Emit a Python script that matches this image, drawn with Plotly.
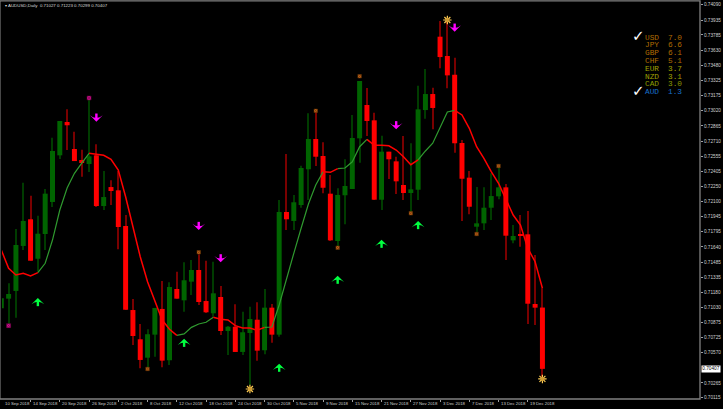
import plotly.graph_objects as go

W, H = 723, 409
M = dict(l=2, r=21, t=2, b=10)

# Price scale in 1e-5 units (OHLC per daily bar)
opens = [71020,71117,71195,71650,71920,71521,71771,72095,72567,72904,72631,72520,72479,72567,72054,72246,72213,71852,71002,70706,70520,70753,71013,70494,71215,71100,71289,71407,71093,70969,71134,70790,70833,70578,70770,70904,70595,71026,70753,71994,71903,72064,72426,72732,72560,72179,71700,72163,72226,72739,73076,72921,72118,72604,72506,72267,72186,72219,73025,73187,73767,73572,73382,72692,72341,71845,71879,72037,72152,72243,71707,71771,71768,71063,71027]
highs = [71205,71272,71822,72290,72159,71956,72226,72745,72914,73032,72806,72624,73126,72678,72408,72314,72408,71963,71114,70861,70807,71023,71296,71283,71390,71485,71508,71566,71501,71491,71245,70841,71060,70985,71036,71080,71215,71063,72115,72580,72166,72462,72992,73008,72699,72368,72233,72527,72975,73319,73248,72998,72765,72604,72553,72762,72689,73271,73440,73251,73926,73936,73554,72722,72408,72246,72243,72385,72452,72277,71862,71963,72004,71559,71223]
lows = [70881,70844,70925,71609,71498,71390,71609,72044,72530,72621,72509,72351,72398,72044,72014,72064,71616,71002,70648,70413,70416,70530,70423,70446,71117,70985,71154,71053,70972,70935,70749,70547,70578,70547,70244,70490,70554,70672,70732,71812,71812,72037,72115,72459,72183,71700,71650,71869,72226,72492,72762,72115,72014,72327,72176,72115,71994,72115,72937,72830,73447,73245,72593,71903,71970,71791,71812,71913,72122,71508,71677,71643,70861,70851,70299]
closes = [71121,71164,71660,71903,71501,71774,72179,72611,72914,72871,72509,72489,72557,72054,72145,72206,71842,71005,70739,70497,70757,71023,70490,71235,71117,71303,71407,71083,70979,71171,70790,70833,70578,70777,70911,70591,71026,70753,71994,71920,72092,72439,72732,72553,72239,71707,72166,72257,72742,73319,72914,72118,72604,72527,72304,72186,72223,73032,73187,73046,73561,73376,72689,72330,72047,71879,72037,72155,72243,71754,71751,71756,71066,71026,70407]
ma_line = [71609,71424,71356,71374,71346,71380,71475,71710,72014,72236,72385,72489,72587,72580,72567,72527,72418,72148,71832,71541,71289,71103,70901,70807,70746,70760,70827,70861,70878,70929,70908,70901,70844,70820,70820,70797,70827,70830,71053,71326,71576,71829,72075,72267,72401,72395,72432,72439,72502,72654,72729,72668,72668,72664,72621,72553,72472,72520,72611,72689,72840,73005,73022,72975,72840,72654,72537,72401,72284,72132,71963,71862,71626,71491,71223]
ma_rising_runs = [(5, 12), (24, 29), (36, 44), (46, 50), (57, 62)]
ma_falling_runs = [(0, 5), (12, 24), (29, 36), (44, 46), (50, 57), (62, 74)]

sell_idx = [13, 27, 30, 54, 62]
sell_price = [72958, 71862, 71535, 72881, 73868]
buy_idx = [5, 25, 38, 46, 52, 57]
buy_price = [71073, 70661, 70409, 71299, 71663, 71852]
pink_idx = [1, 12]
pink_price = [70844, 73147]
orange_idx = [20, 27, 43, 46, 49, 56, 65, 68]
orange_price = [70406, 71586, 73018, 71633, 73366, 71980, 71771, 72459]
star_idx = [34, 61, 74]
star_price = [70203, 73936, 70305]

date_tick_idx = list(range(0, 73, 4))
date_labels = ["10 Sep 2018","14 Sep 2018","20 Sep 2018","26 Sep 2018","2 Oct 2018","8 Oct 2018","12 Oct 2018","18 Oct 2018","24 Oct 2018","30 Oct 2018","5 Nov 2018","9 Nov 2018","15 Nov 2018","21 Nov 2018","27 Nov 2018","3 Dec 2018","7 Dec 2018","13 Dec 2018","19 Dec 2018"]
price_ticks = [74090,73935,73785,73630,73480,73325,73175,73020,72865,72710,72555,72405,72250,72100,71945,71795,71640,71485,71335,71180,71030,70875,70725,70570,70265,70115]
last_price = 70407
title_text = "▾ AUDUSD,Daily  0.71027 0.71223 0.70299 0.70407"
currencies = ["USD","JPY","GBP","CHF","EUR","NZD","CAD","AUD"]
strengths = [7.0,6.6,6.1,5.1,3.7,3.1,3.0,1.3]
strength_colors = ["#b06c00","#b06c00","#b06c00","#b06c00","#a0a000","#a0a000","#8c9a00","#1870cc"]
checked = ["USD","AUD"]

X0, X1 = 0.095, 95.55
Y0, Y1 = 0.70102, 0.74118
PRICE_PER_PX = (Y1 - Y0) / (H - M["t"] - M["b"])

def pr(v):
    return [p / 1e5 for p in v] if isinstance(v, list) else v / 1e5

def px(x):
    return (x - M["l"]) / (W - M["l"] - M["r"])

def py(y):
    return 1 - (y - M["t"]) / (H - M["t"] - M["b"])

idx = list(range(len(opens)))
is_up = [c >= o for o, c in zip(opens, closes)]
fig = go.Figure()

# wicks (dim, thin bars)
fig.add_trace(go.Bar(x=idx, base=pr(lows), y=[(h - l) / 1e5 for h, l in zip(highs, lows)], width=0.14,
                     marker=dict(color=["#003c00" if u else "#7a0000" for u in is_up], line=dict(width=0)),
                     showlegend=False, hoverinfo="skip"))
# bodies
fig.add_trace(go.Bar(x=idx, base=[min(o, c) / 1e5 for o, c in zip(opens, closes)],
                     y=[abs(o - c) / 1e5 for o, c in zip(opens, closes)], width=0.68,
                     marker=dict(color=["#006400" if u else "#ff0000" for u in is_up], line=dict(width=0)),
                     showlegend=False, hoverinfo="skip"))

for runs, col, w in ((ma_rising_runs, "#2f9a2f", 1.2), (ma_falling_runs, "#ff0000", 1.5)):
    for a, b in runs:
        fig.add_trace(go.Scatter(x=idx[a:b + 1], y=pr(ma_line[a:b + 1]), mode="lines",
                                 line=dict(color=col, width=w), showlegend=False, hoverinfo="skip"))

def arrow(xs, ys, col, angle, direction):
    # shaft
    fig.add_trace(go.Scatter(x=xs, y=pr(ys), mode="markers",
                             marker=dict(symbol="line-ns", size=4.5, line=dict(color=col, width=2.4)),
                             showlegend=False, hoverinfo="skip"))
    # head: its tip sits on the given point, so lift it to the end of the shaft
    tip = [v / 1e5 + direction * 5 * PRICE_PER_PX for v in ys]
    fig.add_trace(go.Scatter(x=xs, y=tip, mode="markers",
                             marker=dict(symbol="arrow-wide", size=9, color=col, angle=angle, line=dict(width=0)),
                             showlegend=False, hoverinfo="skip"))

arrow(buy_idx, buy_price, "#00ff40", 0, 1)
arrow(sell_idx, sell_price, "#ff00ff", 180, -1)

fig.add_trace(go.Scatter(x=pink_idx, y=pr(pink_price), mode="markers",
                         marker=dict(symbol="square-x", size=4, color="#d0108a", line=dict(color="#600040", width=0.5)),
                         showlegend=False, hoverinfo="skip"))
fig.add_trace(go.Scatter(x=orange_idx, y=pr(orange_price), mode="markers",
                         marker=dict(symbol="square-x", size=3.5, color="#c8641e", line=dict(color="#5a3000", width=0.5)),
                         showlegend=False, hoverinfo="skip"))
fig.add_trace(go.Scatter(x=star_idx, y=pr(star_price), mode="markers",
                         marker=dict(symbol="asterisk-open", size=7, line=dict(color="#e4d420", width=1.2)),
                         showlegend=False, hoverinfo="skip"))
fig.add_trace(go.Scatter(x=star_idx, y=pr(star_price), mode="markers",
                         marker=dict(symbol="circle", size=4, color="#cf9a30"),
                         showlegend=False, hoverinfo="skip"))

ann = []
for t, lab in zip(date_tick_idx, date_labels):
    ann.append(dict(x=max(t, X0), xref="x", y=py(403.6), yref="paper", text=lab, showarrow=False, xanchor="left",
                    yanchor="middle", xshift=0.5,
                    font=dict(family="Liberation Sans", size=4.3, color="#d0d0d0")))
ann.append(dict(x=px(3), y=py(5), xref="paper", yref="paper", text=title_text, showarrow=False,
                xanchor="left", yanchor="middle",
                font=dict(family="Liberation Sans", size=4.4, color="#d8d8d8")))
ann.append(dict(x=px(703), y=last_price / 1e5, xref="paper", yref="y", text=f"{last_price / 1e5:.5f}",
                showarrow=False, xanchor="left", yanchor="middle", bgcolor="#ffffff", borderpad=0.3,
                font=dict(family="Liberation Sans", size=4.7, color="#000000")))
for i, (c, s, col) in enumerate(zip(currencies, strengths, strength_colors)):
    yy = py(37.5 + i * 7.8)
    ann.append(dict(x=px(644.5), y=yy, xref="paper", yref="paper", text=c, showarrow=False, xanchor="left",
                    yanchor="middle", font=dict(family="Liberation Mono", size=7.8, color=col)))
    ann.append(dict(x=px(667.5), y=yy, xref="paper", yref="paper", text=f"{s:.1f}", showarrow=False, xanchor="left",
                    yanchor="middle", font=dict(family="Liberation Mono", size=7.8, color=col)))
    if c in checked:
        ann.append(dict(x=px(640), y=py(36.5 + i * 7.8), xref="paper", yref="paper", text="✓", showarrow=False,
                        xanchor="center", yanchor="middle",
                        font=dict(family="DejaVu Sans", size=15, color="#ffffff")))

fig.update_layout(
    width=W, height=H, margin=M, paper_bgcolor="#000000", plot_bgcolor="#000000",
    showlegend=False, annotations=ann, barmode="overlay",
    shapes=[dict(type="rect", xref="paper", yref="paper", x0=-0.003, x1=1, y0=0, y1=1.003,
                 line=dict(color="#808080", width=1.3), fillcolor="rgba(0,0,0,0)", layer="above")],
    xaxis=dict(range=[X0, X1], showgrid=False, zeroline=False,
               tickvals=date_tick_idx, ticktext=[""] * len(date_tick_idx), ticks="outside", ticklen=2,
               tickcolor="#a0a0a0", tickwidth=0.7, showline=False, fixedrange=True),
    yaxis=dict(range=[Y0, Y1], side="right", showgrid=False, zeroline=False,
               tickvals=pr(price_ticks), ticktext=[f"{p / 1e5:.5f}" for p in price_ticks], ticks="outside",
               ticklen=2, tickcolor="#a0a0a0", tickwidth=0.7, showline=False, fixedrange=True,
               tickfont=dict(family="Liberation Sans", size=4.7, color="#d0d0d0")),
)
fig.write_html("out.html", config=dict(displayModeBar=False),
               post_script="document.body.style.margin='0';document.body.style.background='#000';document.body.style.overflow='hidden';")
